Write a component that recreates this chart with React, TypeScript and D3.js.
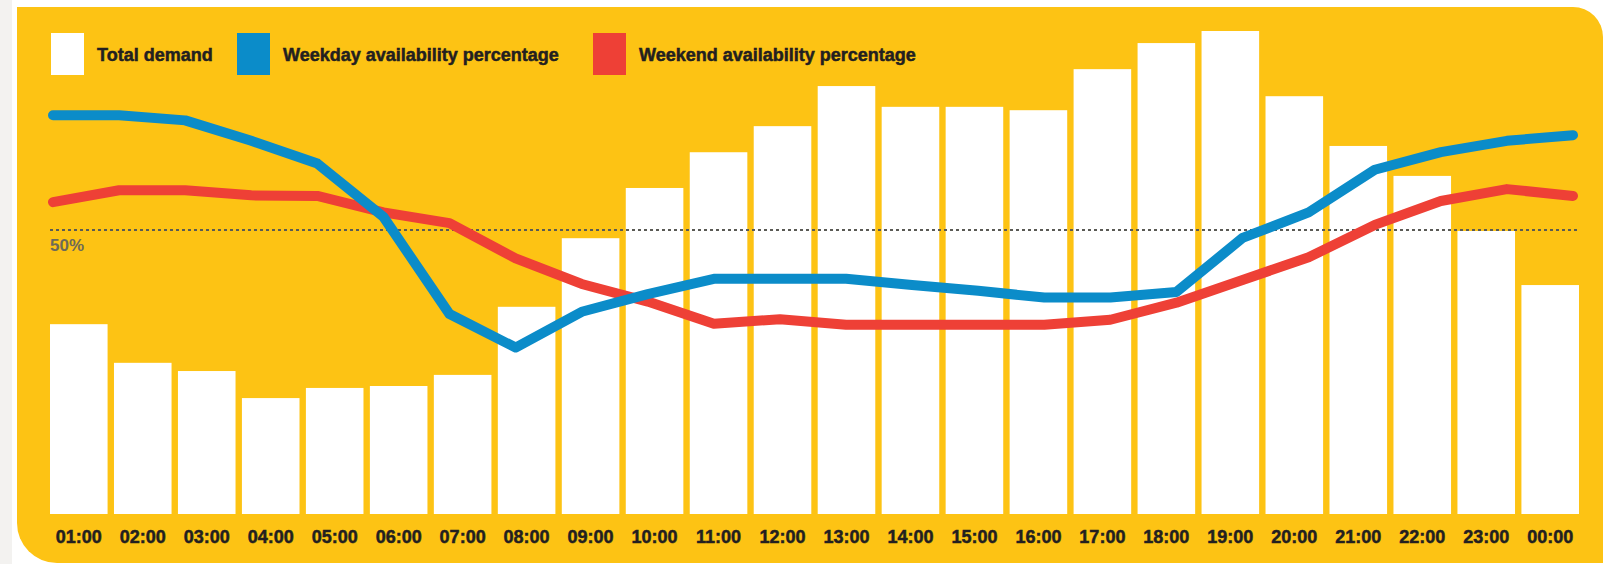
import { scaleBand, scaleLinear, scalePoint, line } from "d3";

// hours along the x axis
const hours = [
  "01:00", "02:00", "03:00", "04:00", "05:00", "06:00", "07:00", "08:00",
  "09:00", "10:00", "11:00", "12:00", "13:00", "14:00", "15:00", "16:00",
  "17:00", "18:00", "19:00", "20:00", "21:00", "22:00", "23:00", "00:00",
];

// total demand (index, peak hour = 100)
const demand = [
  39.3, 31.3, 29.6, 24.0, 26.1, 26.5, 28.8, 42.9, 57.1, 67.5, 74.9, 80.3,
  88.6, 84.3, 84.3, 83.6, 92.1, 97.5, 100, 86.5, 76.2, 70.0, 58.6, 47.4,
];

// availability percentages
const weekday = [
  70.2, 70.2, 69.3, 65.7, 61.7, 52.3, 35.2, 29.3, 35.6, 38.7, 41.4, 41.4,
  41.4, 40.3, 39.3, 38.1, 38.1, 39.1, 48.6, 53.1, 60.6, 63.7, 65.7, 66.7,
];
const weekend = [
  54.9, 57.0, 57.0, 56.1, 56.0, 53.1, 51.2, 45.0, 40.5, 37.4, 33.5, 34.3,
  33.3, 33.3, 33.3, 33.3, 34.2, 37.2, 41.2, 45.2, 50.9, 55.1, 57.2, 56.0,
];

const legendItems = [
  { label: "Total demand", color: "#ffffff", x: 51 },
  { label: "Weekday availability percentage", color: "#0b8cc9", x: 237 },
  { label: "Weekend availability percentage", color: "#ee4036", x: 593 },
];

const W = 1603;
const H = 564;
const YELLOW = "#fdc314";
const BLUE = "#0b8cc9";
const RED = "#ee4036";
const INK = "#231f20";
const FONT = "'Liberation Sans', Arial, sans-serif";

const baseY = 514;

export default function App() {
  const x = scaleBand<string>()
    .domain(hours)
    .range([50, 1579])
    .paddingInner(0.1)
    .paddingOuter(0);

  const xp = scalePoint<string>().domain(hours).range([53, 1573]);

  const yDemand = scaleLinear().domain([0, 100]).range([baseY, 31]);
  const yPct = scaleLinear().domain([0, 50]).range([baseY, 230]);

  const lineGen = (vals: number[]) =>
    line<number>()
      .x((_, i) => xp(hours[i]) as number)
      .y((d) => yPct(d))(vals) as string;

  // panel: square top-left, rounded top-right and bottom-left
  const px0 = 17, py0 = 7, px1 = 1603, py1 = 563;
  const rTR = 30, rBL = 40;
  const panel = `M${px0},${py0} H${px1 - rTR} A${rTR},${rTR} 0 0 1 ${px1},${py0 + rTR}
    V${py1} H${px0 + rBL} A${rBL},${rBL} 0 0 1 ${px0},${py1 - rBL} Z`;

  return (
    <svg
      width={W}
      height={H}
      style={{ position: "absolute", left: 0, top: 0, display: "block" }}
    >
      <rect x={0} y={0} width={W} height={H} fill="#ffffff" />
      <rect x={0} y={0} width={12} height={H} fill="#f3f2f0" />
      <path d={panel} fill={YELLOW} />

      {/* legend */}
      {legendItems.map((d) => (
        <g key={d.label}>
          <rect x={d.x} y={33} width={33} height={42} fill={d.color} />
          <text
            x={d.x + 46}
            y={61}
            fontFamily={FONT}
            fontWeight={700}
            fontSize={18}
            fill={INK}
            stroke={INK}
            strokeWidth={0.5}
          >
            {d.label}
          </text>
        </g>
      ))}

      {/* demand bars */}
      {demand.map((v, i) => (
        <rect
          key={hours[i]}
          x={x(hours[i])}
          y={yDemand(v)}
          width={x.bandwidth()}
          height={baseY - yDemand(v)}
          fill="#ffffff"
        />
      ))}

      {/* 50% reference */}
      <line
        x1={50}
        x2={1578}
        y1={yPct(50)}
        y2={yPct(50)}
        stroke="#5a5a55"
        strokeWidth={2}
        strokeDasharray="3 3"
      />
      <text
        x={50}
        y={yPct(50) + 21}
        fontFamily={FONT}
        fontWeight={700}
        fontSize={17}
        fill="#6e6a58"
      >
        50%
      </text>

      {/* availability lines */}
      <path
        d={lineGen(weekend)}
        fill="none"
        stroke={RED}
        strokeWidth={10}
        strokeLinejoin="round"
        strokeLinecap="round"
      />
      <path
        d={lineGen(weekday)}
        fill="none"
        stroke={BLUE}
        strokeWidth={10}
        strokeLinejoin="round"
        strokeLinecap="round"
      />

      {/* x labels */}
      {hours.map((h) => (
        <text
          key={h}
          x={(x(h) as number) + x.bandwidth() / 2}
          y={543}
          textAnchor="middle"
          fontFamily={FONT}
          fontWeight={700}
          fontSize={18}
          fill={INK}
          stroke={INK}
          strokeWidth={0.5}
        >
          {h}
        </text>
      ))}
    </svg>
  );
}
